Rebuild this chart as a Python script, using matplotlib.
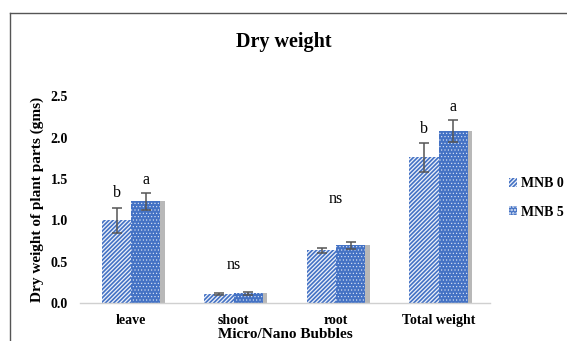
import matplotlib
matplotlib.use("Agg")
import matplotlib.pyplot as plt
import numpy as np
from matplotlib.lines import Line2D

categories = ["leave", "shoot", "root", "Total weight"]
series_names = ["MNB 0", "MNB 5"]
mnb0 = [1.00, 0.11, 0.64, 1.76]
mnb5 = [1.23, 0.12, 0.70, 2.08]
err0 = [0.15, 0.015, 0.03, 0.17]
err5 = [0.10, 0.02, 0.04, 0.13]
letters0 = ["b", "", "", "b"]
letters5 = ["a", "", "", "a"]
group_letters = ["", "ns", "ns", ""]

plt.rcParams['font.family'] = ['Liberation Serif', 'DejaVu Serif']
plt.rcParams['hatch.linewidth'] = 1.2

fig = plt.figure(figsize=(5.67, 3.41), dpi=100)
ax = fig.add_axes([0.141, 0.111, 0.723, 0.607])

x = np.arange(len(categories))
w = 0.285
blue = '#4472C4'

# shadows
sh = 0.045
ax.bar(x - w/2 + sh, mnb0, w, color='#b0b0b0', alpha=0.6, zorder=1, linewidth=0)
ax.bar(x + w/2 + sh, mnb5, w, color='#9a9a9a', alpha=0.7, zorder=1, linewidth=0)

b0 = ax.bar(x - w/2, mnb0, w, facecolor='#eef2fa', edgecolor=blue, hatch='////////',
            linewidth=0, zorder=2, label=series_names[0])
b5 = ax.bar(x + w/2, mnb5, w, facecolor=blue, edgecolor='#e4ebf8', hatch='.....',
            linewidth=0, zorder=2, label=series_names[1])
for p in b5.patches:
    if hasattr(p, 'set_hatch_linewidth'):
        p.set_hatch_linewidth(0.4)

ax.errorbar(x - w/2, mnb0, yerr=err0, fmt='none', ecolor='#555555', elinewidth=1.1,
            capsize=3.5, capthick=1.1, zorder=3)
ax.errorbar(x + w/2, mnb5, yerr=err5, fmt='none', ecolor='#555555', elinewidth=1.1,
            capsize=3.5, capthick=1.1, zorder=3)

for i in range(len(categories)):
    if letters0[i]:
        ax.text(x[i] - w/2, mnb0[i] + err0[i] + 0.08, letters0[i], ha='center',
                va='bottom', fontsize=11.5, clip_on=False)
    if letters5[i]:
        ax.text(x[i] + w/2, mnb5[i] + err5[i] + 0.06, letters5[i], ha='center',
                va='bottom', fontsize=11.5, clip_on=False)
    if group_letters[i]:
        top = max(mnb0[i] + err0[i], mnb5[i] + err5[i])
        ax.text(x[i], top + 0.22 + 0.2 * (i - 1), group_letters[i], ha='center',
                va='bottom', fontsize=11.5, clip_on=False)

ax.set_xlim(-0.5, len(categories) - 0.5)
ax.set_ylim(0, 2.5)
ax.set_yticks(np.arange(0, 2.51, 0.5))
ax.yaxis.set_major_formatter(matplotlib.ticker.FormatStrFormatter('%.1f'))
ax.set_xticks(x)
ax.set_xticklabels(categories, fontweight='bold', fontsize=10)
for lab in ax.get_yticklabels():
    lab.set_fontweight('bold')
    lab.set_fontsize(10)
ax.tick_params(axis='both', length=0)
ax.tick_params(axis='x', pad=8)
ax.tick_params(axis='y', pad=8.5)
for s in ['top', 'right', 'left']:
    ax.spines[s].set_visible(False)
ax.spines['bottom'].set_color('#d0d0d0')
ax.spines['bottom'].set_linewidth(1.0)

ax.set_xlabel("Micro/Nano Bubbles", fontweight='bold', fontsize=11)
ax.xaxis.set_label_coords(0.5, -(334 - 303) / 207, transform=ax.transAxes)
ax.xaxis.label.set_va('center')
ax.set_ylabel("Dry weight of plant parts (gms)", fontweight='bold', fontsize=11)
ax.yaxis.set_label_coords(-(80 - 37) / 410, 0.5, transform=ax.transAxes)
ax.yaxis.label.set_va('center')

fig.text(0.5, 1 - 42/341, "Dry weight", ha='center', va='center', fontsize=14.5,
         fontweight='bold')

leg = fig.legend(handles=[b0, b5], labels=series_names, loc='center left',
                 bbox_to_anchor=(0.898, 1 - 198/341), frameon=False,
                 prop={'weight': 'bold', 'size': 10}, handlelength=0.6,
                 handleheight=0.6, handletextpad=0.25, labelspacing=1.1,
                 borderpad=0, borderaxespad=0)

# outer border (left and top visible)
fig.add_artist(Line2D([10/567, 10/567], [0, 1 - 13/341], transform=fig.transFigure,
                      color='#555555', lw=1.0))
fig.add_artist(Line2D([10/567, 1], [1 - 13/341, 1 - 13/341], transform=fig.transFigure,
                      color='#555555', lw=1.0))

fig.savefig("out.png", dpi=100)
